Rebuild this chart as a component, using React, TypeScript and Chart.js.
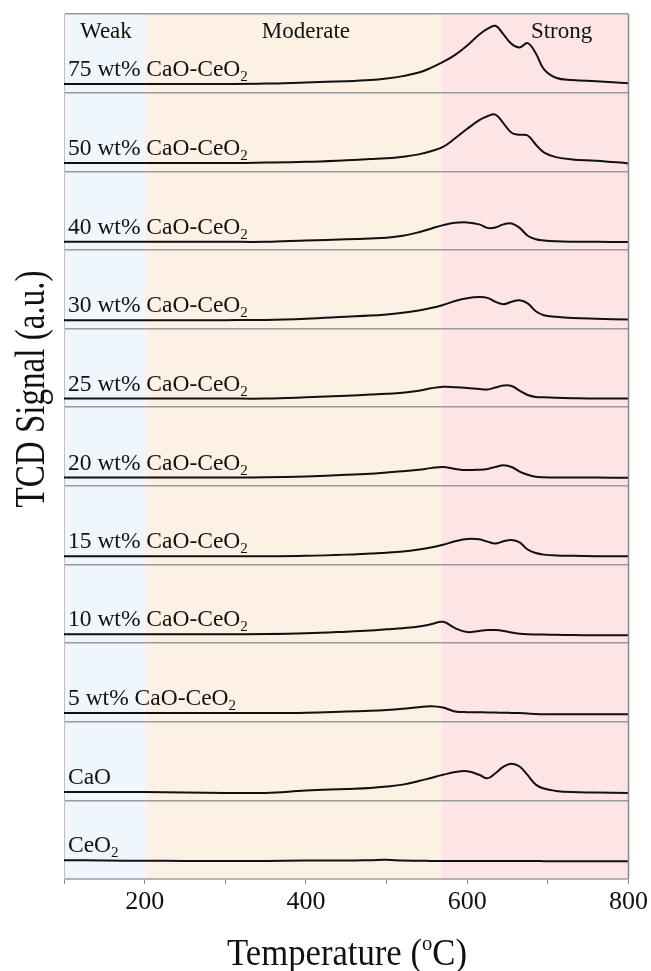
import React, { useEffect, useRef } from "react";
import { Chart, registerables } from "chart.js";

Chart.register(...registerables);

// Temperature grid (°C)
const temps = [100, 150, 200, 250, 300, 350, 400, 450, 480, 500, 520, 540, 555, 570, 585, 600, 615, 625, 635, 645, 655, 665, 675, 685, 695, 710, 730, 760, 800];

// TCD signal (a.u., fraction of a panel height) for each sample
const s75 = [0.11, 0.11, 0.11, 0.11, 0.11, 0.115, 0.13, 0.145, 0.16, 0.18, 0.21, 0.255, 0.315, 0.39, 0.48, 0.6, 0.74, 0.81, 0.85, 0.74, 0.62, 0.575, 0.63, 0.5, 0.3, 0.19, 0.16, 0.145, 0.12];
const s50 = [0.105, 0.105, 0.105, 0.105, 0.105, 0.11, 0.12, 0.14, 0.155, 0.165, 0.185, 0.215, 0.255, 0.31, 0.42, 0.54, 0.65, 0.7, 0.72, 0.61, 0.49, 0.465, 0.455, 0.34, 0.24, 0.18, 0.15, 0.135, 0.1];
const s40 = [0.103, 0.103, 0.103, 0.103, 0.103, 0.103, 0.12, 0.135, 0.145, 0.155, 0.18, 0.225, 0.27, 0.315, 0.345, 0.35, 0.325, 0.28, 0.285, 0.325, 0.335, 0.28, 0.18, 0.135, 0.12, 0.11, 0.105, 0.103, 0.1];
const s30 = [0.107, 0.107, 0.107, 0.107, 0.107, 0.11, 0.125, 0.15, 0.165, 0.18, 0.2, 0.23, 0.26, 0.3, 0.35, 0.385, 0.4, 0.39, 0.34, 0.31, 0.34, 0.36, 0.32, 0.22, 0.17, 0.15, 0.135, 0.125, 0.115];
const s25 = [0.11, 0.11, 0.11, 0.11, 0.11, 0.11, 0.125, 0.145, 0.16, 0.17, 0.185, 0.21, 0.24, 0.26, 0.255, 0.245, 0.23, 0.225, 0.25, 0.275, 0.27, 0.21, 0.155, 0.13, 0.125, 0.12, 0.115, 0.11, 0.11];
const s20 = [0.105, 0.105, 0.105, 0.105, 0.105, 0.108, 0.12, 0.14, 0.155, 0.17, 0.185, 0.205, 0.225, 0.24, 0.215, 0.2, 0.205, 0.215, 0.24, 0.26, 0.24, 0.18, 0.14, 0.115, 0.108, 0.105, 0.105, 0.105, 0.103];
const s15 = [0.104, 0.104, 0.104, 0.104, 0.104, 0.104, 0.11, 0.125, 0.14, 0.15, 0.165, 0.19, 0.215, 0.25, 0.295, 0.325, 0.32, 0.29, 0.265, 0.295, 0.31, 0.28, 0.19, 0.145, 0.125, 0.115, 0.11, 0.105, 0.104];
const s10 = [0.112, 0.112, 0.112, 0.112, 0.112, 0.115, 0.125, 0.145, 0.16, 0.175, 0.19, 0.21, 0.24, 0.27, 0.19, 0.14, 0.155, 0.165, 0.165, 0.155, 0.135, 0.12, 0.112, 0.11, 0.108, 0.105, 0.103, 0.1, 0.1];
const s05 = [0.11, 0.11, 0.11, 0.11, 0.11, 0.11, 0.115, 0.13, 0.14, 0.15, 0.165, 0.185, 0.196, 0.18, 0.13, 0.122, 0.12, 0.118, 0.116, 0.114, 0.112, 0.11, 0.105, 0.097, 0.094, 0.094, 0.094, 0.094, 0.094];
const sCaO = [0.106, 0.106, 0.105, 0.1, 0.095, 0.095, 0.125, 0.145, 0.158, 0.175, 0.2, 0.245, 0.285, 0.325, 0.36, 0.37, 0.325, 0.28, 0.345, 0.43, 0.465, 0.43, 0.32, 0.2, 0.15, 0.12, 0.105, 0.1, 0.093];
const sCeO2 = [0.24, 0.235, 0.232, 0.23, 0.23, 0.23, 0.235, 0.235, 0.24, 0.245, 0.235, 0.232, 0.23, 0.23, 0.23, 0.23, 0.23, 0.23, 0.23, 0.228, 0.228, 0.228, 0.228, 0.228, 0.227, 0.227, 0.226, 0.226, 0.225];

// Samples, top to bottom
const sampleNames = ["75 wt% CaO-CeO2", "50 wt% CaO-CeO2", "40 wt% CaO-CeO2", "30 wt% CaO-CeO2", "25 wt% CaO-CeO2", "20 wt% CaO-CeO2", "15 wt% CaO-CeO2", "10 wt% CaO-CeO2", "5 wt% CaO-CeO2", "CaO", "CeO2"];
const sampleSeries = [s75, s50, s40, s30, s25, s20, s15, s10, s05, sCaO, sCeO2];

// Acid-strength regions
const regionNames = ["Weak", "Moderate", "Strong"];
const regionBounds = [[100, 200], [200, 568], [568, 800]];
const regionLabelAt = [152, 400, 717];

const xTickLabels = [200, 400, 600, 800];

const FONT = '"Liberation Serif", "Times New Roman", serif';
const REGION_COLORS = ["#eff7fd", "#fdf0e4", "#fde5e6"];

function drawChem(ctx: CanvasRenderingContext2D, text: string, x: number, y: number, size: number) {
  const m = text.match(/^(.*O)2$/);
  ctx.font = `${size}px ${FONT}`;
  ctx.textAlign = "left";
  ctx.textBaseline = "alphabetic";
  if (m) {
    ctx.fillText(m[1], x, y);
    const w = ctx.measureText(m[1]).width;
    ctx.font = `${Math.round(size * 0.62)}px ${FONT}`;
    ctx.fillText("2", x + w, y + size * 0.22);
  } else {
    ctx.fillText(text, x, y);
  }
}

const bgPlugin = {
  id: "bgRegions",
  beforeDraw(chart: any) {
    const { ctx, chartArea, scales } = chart;
    ctx.save();
    ctx.fillStyle = "#ffffff";
    ctx.fillRect(0, 0, chart.width, chart.height);
    regionBounds.forEach((b, i) => {
      const x0 = scales.x.getPixelForValue(b[0]);
      const x1 = scales.x.getPixelForValue(b[1]);
      ctx.fillStyle = REGION_COLORS[i];
      ctx.fillRect(x0, chartArea.top, x1 - x0, chartArea.bottom - chartArea.top);
    });
    ctx.restore();
  },
};

const textPlugin = {
  id: "texts",
  afterDraw(chart: any) {
    const { ctx, chartArea, scales } = chart;
    ctx.save();
    // right border
    ctx.strokeStyle = "#8a8a8a";
    ctx.lineWidth = 1.5;
    ctx.beginPath();
    ctx.moveTo(chartArea.right, chartArea.top);
    ctx.lineTo(chartArea.right, chartArea.bottom);
    ctx.stroke();

    ctx.fillStyle = "#111";
    // region labels
    ctx.font = `23px ${FONT}`;
    ctx.textAlign = "center";
    ctx.textBaseline = "alphabetic";
    regionNames.forEach((n, i) => {
      ctx.fillText(n, scales.x.getPixelForValue(regionLabelAt[i]), chartArea.top + 24);
    });

    // sample labels
    const n = sampleNames.length;
    sampleNames.forEach((name, i) => {
      const offset = n - 1 - i;
      const y = scales.y.getPixelForValue(offset + sampleSeries[i][0]) - 8;
      drawChem(ctx, name, chartArea.left + 4, y, 23.5);
    });

    // x title (condensed serif)
    const xt1 = "Temperature (";
    const xt2 = "o";
    const xt3 = "C)";
    ctx.font = `37px ${FONT}`;
    const w1 = ctx.measureText(xt1).width;
    const w3 = ctx.measureText(xt3).width;
    ctx.font = `22px ${FONT}`;
    const w2 = ctx.measureText(xt2).width;
    const natural = w1 + w2 + w3;
    const target = 240;
    const sx = target / natural;
    ctx.save();
    ctx.translate(347 - target / 2, 965);
    ctx.scale(sx, 1);
    ctx.textAlign = "left";
    ctx.font = `37px ${FONT}`;
    ctx.fillText(xt1, 0, 0);
    ctx.font = `22px ${FONT}`;
    ctx.fillText(xt2, w1, -15);
    ctx.font = `37px ${FONT}`;
    ctx.fillText(xt3, w1 + w2, 0);
    ctx.restore();

    // y title (condensed serif)
    const yt = "TCD Signal (a.u.)";
    ctx.font = `42px ${FONT}`;
    const yw = ctx.measureText(yt).width;
    const ytarget = 237;
    ctx.save();
    ctx.translate(44, 389);
    ctx.rotate(-Math.PI / 2);
    ctx.scale(ytarget / yw, 1);
    ctx.textAlign = "center";
    ctx.fillText(yt, 0, 0);
    ctx.restore();

    ctx.restore();
  },
};

export default function App() {
  const ref = useRef<HTMLCanvasElement | null>(null);

  useEffect(() => {
    if (!ref.current) return;
    const n = sampleNames.length;
    const datasets = sampleSeries.map((vals, i) => {
      const offset = n - 1 - i;
      return {
        label: sampleNames[i],
        data: temps.map((t, k) => ({ x: t, y: offset + vals[k] })),
        borderColor: "#111111",
        borderWidth: 2,
        pointRadius: 0,
        fill: false,
        tension: 0.4,
      };
    });

    const chart = new Chart(ref.current, {
      type: "line",
      data: { datasets },
      options: {
        animation: false,
        responsive: false,
        maintainAspectRatio: false,
        layout: { padding: { top: 14, right: 22, left: 0, bottom: 0 } },
        plugins: { legend: { display: false }, tooltip: { enabled: false }, title: { display: false } },
        scales: {
          x: {
            type: "linear",
            min: 100,
            max: 800,
            afterFit: (s: any) => {
              s.height = 92;
            },
            ticks: {
              stepSize: 100,
              autoSkip: false,
              maxRotation: 0,
              padding: 3,
              color: "#111",
              font: { family: FONT, size: 26 },
              callback: (v: any) => (xTickLabels.includes(Number(v)) ? String(v) : ""),
            },
            grid: { drawOnChartArea: false, drawTicks: true, tickLength: 5, tickColor: "#888", tickWidth: 1 },
            border: { display: true, color: "#b5b5b5", width: 1 },
          },
          y: {
            type: "linear",
            min: 0,
            max: sampleNames.length,
            afterFit: (s: any) => {
              s.width = 64;
            },
            ticks: { stepSize: 1, display: false },
            grid: {
              drawTicks: false,
              color: (c: any) => (c.tick && c.tick.value === 0 ? "#b5b5b5" : "#9a9a9a"),
              lineWidth: 1.5,
            },
            border: { display: true, color: "#c0c0c0", width: 1 },
          },
        },
      },
      plugins: [bgPlugin, textPlugin],
    });
    return () => chart.destroy();
  }, []);

  return (
    <div style={{ position: "absolute", left: 0, top: 0, width: 651, height: 971 }}>
      <canvas ref={ref} width={651} height={971} style={{ width: 651, height: 971, display: "block" }} />
    </div>
  );
}
